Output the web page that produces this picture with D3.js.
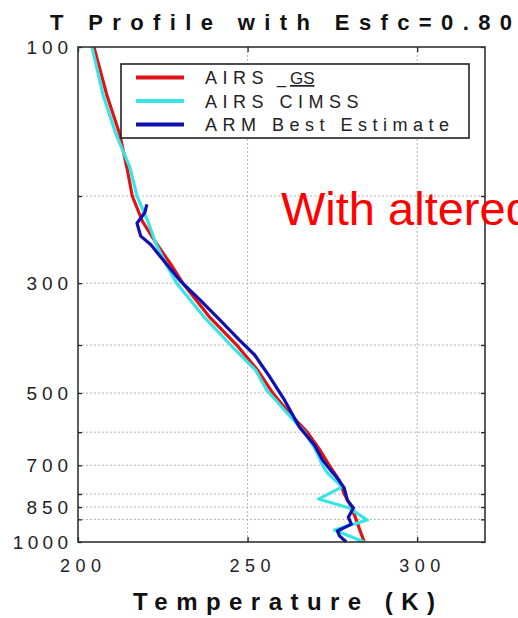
<!DOCTYPE html>
<html>
<head>
<meta charset="utf-8">
<script src="https://cdn.jsdelivr.net/npm/d3@7"></script>
<style>
  body { margin: 0; background: #fff; overflow: hidden; }
  svg { display: block; font-family: "Liberation Sans", Arial, sans-serif; }
</style>
</head>
<body>
<div id="chart"></div>
<script>
// tick values
const tempTicks = [200, 250, 300];
const pressureTicks = [100, 200, 300, 400, 500, 600, 700, 800, 850, 900, 1000];
const pressureLabels = [100, 300, 500, 700, 850, 1000];

// AIRS _GS (red)
const airsGsP = [100, 125, 150, 175, 200, 225, 250, 275, 300, 350, 400, 450, 500, 550, 600, 650, 700, 750, 800, 850, 900, 950, 1000];
const airsGsT = [204.7, 208.5, 212.3, 214.4, 216.0, 219.0, 223.2, 227.4, 230.9, 238.6, 246.8, 253.0, 257.4, 262.4, 267.6, 271.2, 274.1, 277.0, 278.5, 280.6, 282.0, 283.2, 284.4];

// AIRS CIMSS (cyan)
const cimssP = [100, 125, 150, 175, 200, 225, 250, 275, 300, 350, 400, 450, 493, 550, 600, 650, 700, 725, 774, 819, 854, 903, 946, 1000];
const cimssT = [204.1, 207.4, 211.2, 215.3, 217.4, 220.6, 223.0, 226.0, 229.1, 237.0, 245.0, 252.4, 255.6, 261.8, 266.8, 270.0, 272.1, 273.5, 277.9, 270.9, 280.0, 285.3, 275.6, 284.4];

// ARM Best Estimate (blue)
const armP = [208, 216, 227, 241, 251, 272, 296, 324, 356, 391, 419, 439, 460, 517, 586, 637, 683, 715, 739, 778, 823, 854, 891, 920, 950, 972, 1000];
const armT = [220.3, 219.7, 217.4, 218.5, 221.5, 225.6, 230.0, 235.9, 241.8, 247.6, 252.1, 254.1, 256.2, 260.9, 265.3, 269.7, 272.1, 274.4, 276.2, 278.5, 279.4, 281.2, 279.7, 280.6, 276.5, 277.1, 279.1];

const seriesNames = ["AIRS", "AIRS CIMSS", "ARM Best Estimate"];
const seriesColors = ["#e01414", "#38e4e4", "#1010b4"];

const series = [
    airsGsP.map((p, i) => ({p: p, t: airsGsT[i]})),
    cimssP.map((p, i) => ({p: p, t: cimssT[i]})),
    armP.map((p, i) => ({p: p, t: armT[i]}))
];

const margin = {left: 78, right: 33, top: 47, bottom: 76};
const width = 518 - margin.left - margin.right;
const height = 618 - margin.top - margin.bottom;

const root = d3.select("#chart")
    .append("svg")
    .attr("width", 518)
    .attr("height", 618);

const svg = root.append("g")
    .attr("transform", "translate(" + margin.left + "," + margin.top + ")");

const xScale = d3.scaleLinear().domain([200, 320]).range([0, width]);
const yScale = d3.scaleLog().domain([100, 1000]).range([0, height]);

// dotted grid
svg.selectAll(".hgrid")
    .data(pressureTicks.filter(p => p > 100 && p < 1000))
    .enter().append("line")
    .attr("class", "hgrid")
    .attr("x1", 0).attr("x2", width)
    .attr("y1", d => yScale(d)).attr("y2", d => yScale(d))
    .attr("stroke", "#b4b4b4")
    .attr("stroke-width", 1)
    .attr("stroke-dasharray", "2,2");

svg.selectAll(".vgrid")
    .data(tempTicks.filter(t => t > 200))
    .enter().append("line")
    .attr("class", "vgrid")
    .attr("x1", d => xScale(d)).attr("x2", d => xScale(d))
    .attr("y1", 0).attr("y2", height)
    .attr("stroke", "#b4b4b4")
    .attr("stroke-width", 1)
    .attr("stroke-dasharray", "2,2");

// profiles
const line = d3.line()
    .x(d => xScale(d.t))
    .y(d => yScale(d.p));

series.forEach((s, i) => {
    svg.append("path")
        .datum(s)
        .attr("fill", "none")
        .attr("stroke", seriesColors[i])
        .attr("stroke-width", 3.2)
        .attr("stroke-linejoin", "round")
        .attr("d", line);
});

// axes, ticks pointing inward
const tickFmt = d => pressureLabels.includes(d) ? d : "";

const yAxis = svg.append("g")
    .call(d3.axisLeft(yScale).tickValues(pressureTicks).tickFormat(tickFmt).tickSize(-4).tickPadding(10));
svg.append("g")
    .attr("transform", `translate(${width},0)`)
    .call(d3.axisRight(yScale).tickValues(pressureTicks).tickFormat("").tickSize(-4));
const xAxis = svg.append("g")
    .attr("transform", `translate(0,${height})`)
    .call(d3.axisBottom(xScale).tickValues(tempTicks).tickFormat(d3.format("d")).tickSize(-5).tickPadding(17));
svg.append("g")
    .call(d3.axisTop(xScale).tickValues(tempTicks).tickFormat("").tickSize(-5));

svg.selectAll(".domain").remove();
svg.selectAll(".tick line").attr("stroke", "#222").attr("stroke-width", 1.3);

yAxis.selectAll("text")
    .attr("font-size", 19)
    .attr("fill", "#222")
    .attr("font-family", "Liberation Sans, Arial, sans-serif")
    .attr("lengthAdjust", "spacing")
    .attr("textLength", d => String(d).length * 13.8);

xAxis.selectAll("text")
    .attr("font-size", 18)
    .attr("fill", "#222")
    .attr("font-family", "Liberation Sans, Arial, sans-serif")
    .attr("x", 2)
    .attr("lengthAdjust", "spacing")
    .attr("textLength", 41);

// frame
svg.append("rect")
    .attr("width", width).attr("height", height)
    .attr("fill", "none")
    .attr("stroke", "#333")
    .attr("stroke-width", 1.6);

// legend
const legend = svg.append("g")
    .attr("transform", `translate(${121 - margin.left},${64 - margin.top})`);

legend.append("rect")
    .attr("width", 348).attr("height", 74)
    .attr("fill", "#fff")
    .attr("stroke", "#222")
    .attr("stroke-width", 1.6);

seriesNames.forEach((name, i) => {
    const ly = 13.5 + i * 23.5;
    legend.append("line")
        .attr("x1", 15).attr("x2", 63)
        .attr("y1", ly).attr("y2", ly)
        .attr("stroke", seriesColors[i])
        .attr("stroke-width", 4);
    const txt = legend.append("text")
        .attr("x", 84).attr("y", ly + 6.5)
        .attr("font-size", 18)
        .attr("fill", "#222")
        .attr("letter-spacing", "5.5px")
        .text(name);
    if (i == 0) {
        txt.append("tspan").attr("dx", 8).attr("letter-spacing", "0px").attr("font-size", 16).text("_");
        txt.append("tspan").attr("dx", 4).attr("letter-spacing", "0px").attr("font-size", 17)
            .attr("text-decoration", "underline").text("GS");
    }
});

// title and axis label
root.append("text")
    .attr("x", 50).attr("y", 30)
    .attr("font-size", 22)
    .attr("font-weight", "bold")
    .attr("fill", "#111")
    .attr("lengthAdjust", "spacing")
    .attr("textLength", 462)
    .text("T Profile with Esfc=0.80");

root.append("text")
    .attr("x", 133).attr("y", 610)
    .attr("font-size", 24)
    .attr("font-weight", "bold")
    .attr("fill", "#111")
    .attr("lengthAdjust", "spacing")
    .attr("textLength", 302)
    .text("Temperature (K)");

// overlaid annotation, runs past the right edge as in the source slide
root.append("text")
    .attr("x", 281).attr("y", 225)
    .attr("font-size", 47)
    .attr("fill", "#ff0000")
    .text("With altered");
</script>
</body>
</html>
